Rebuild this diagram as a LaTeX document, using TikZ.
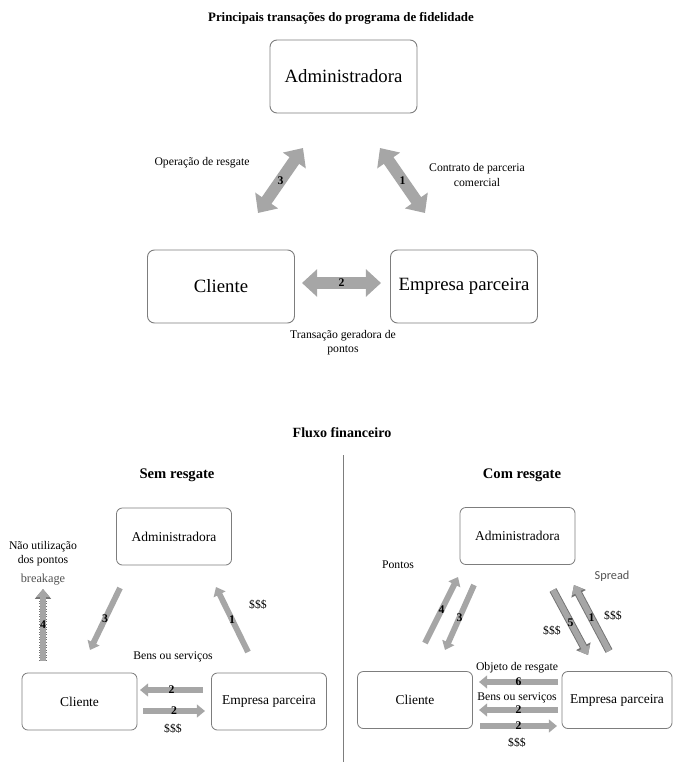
\documentclass[tikz,border=0pt]{standalone}
\usepackage{fontspec}
\setmainfont{Liberation Serif}
\newfontfamily\calfont{Carlito}
\usepackage{tikz}
\usetikzlibrary{arrows.meta, positioning}
\definecolor{arrowgray}{RGB}{166,166,166}
\definecolor{edgegray}{RGB}{115,115,115}
\definecolor{linegray}{RGB}{125,125,125}

\begin{document}
\begin{tikzpicture}[x=0.03cm, y=-0.03cm,
  bigbox/.style={draw=linegray, line width=0.8pt, rounded corners=6pt, minimum width=4.41cm, minimum height=2.19cm, font=\fontsize{16}{18}\selectfont},
  smallbox/.style={draw=linegray, line width=0.7pt, rounded corners=5pt, minimum width=3.45cm, minimum height=1.71cm, font=\fontsize{11.5}{13}\selectfont},
  bigarrow/.style={arrowgray, line width=10pt, {Triangle[width=23pt,length=13pt]}-{Triangle[width=23pt,length=13pt]}},
  slimarrow/.style={arrowgray, line width=5pt, -{Triangle[width=11pt,length=7pt]}},
  rimarrow/.style={edgegray, line width=6.6pt, -{Triangle[width=13.5pt,length=8.5pt]}},
  num/.style={font=\bfseries\fontsize{10}{12}\selectfont, text=black, inner sep=0pt},
  lbl/.style={font=\fontsize{10}{12}\selectfont, align=center},
  head/.style={font=\bfseries\fontsize{12}{14}\selectfont}
]
  \useasboundingbox (0,0) rectangle (674,762);

  % Principais transações
  \node[font=\bfseries\fontsize{11}{13}\selectfont] (title) at (341,18) {Principais transações do programa de fidelidade};

  \node[bigbox] (adm) at (343.5,76.5) {Administradora};
  \node[bigbox] (cli) at (221,286.5) {Cliente};
  \node[bigbox] (emp) at (464,286.5) {Empresa parceira};

  \coordinate (t3a) at (258,213);
  \coordinate (t3b) at (303,148);
  \coordinate (t1a) at (380,148);
  \coordinate (t1b) at (425,213);
  \coordinate (t2a) at (302,283);
  \coordinate (t2b) at (381,283);

  \draw[bigarrow] (t3a) -- (t3b) node[midway, num]{3};
  \draw[bigarrow] (t1a) -- (t1b) node[midway, num]{1};
  \draw[bigarrow] (t2a) -- (t2b) node[midway, num]{2};

  \node[lbl] (opres) at (202,163) {Operação de resgate};
  \node[lbl] (contr) at (477,175) {Contrato de parceria\\comercial};
  \node[lbl] (trans) at (343,343) {Transação geradora de\\pontos};

  % Fluxo financeiro
  \node[head] (fluxo) at (342,433) {Fluxo financeiro};
  \coordinate (divtop) at (343,455);
  \coordinate (divbot) at (343,762);
  \draw[linegray, line width=0.6pt] (divtop) -- (divbot);

  % sem resgate
  \node[head, font=\bfseries\fontsize{12.5}{14}\selectfont] (sem) at (177,475) {Sem resgate};
  \node[smallbox] (sadm) at (174,536.5) {Administradora};
  \node[smallbox] (scli) at (79.5,701.5) {Cliente};
  \node[smallbox] (semp) at (269,701.5) {Empresa parceira};

  \coordinate (s3a) at (120,588);
  \coordinate (s3b) at (90,650);
  \coordinate (s1a) at (248,652);
  \coordinate (s1b) at (216,587);
  \coordinate (s2a) at (203,690);
  \coordinate (s2b) at (140,690);
  \coordinate (s2c) at (143,711);
  \coordinate (s2d) at (205,711);
  \coordinate (s4a) at (43,661);
  \coordinate (s4b) at (43,589);

  \draw[slimarrow] (s3a) -- (s3b) node[midway, num]{3};
  \draw[slimarrow] (s1a) -- (s1b) node[midway, num]{1};
  \draw[slimarrow] (s2a) -- (s2b) node[midway, num]{2};
  \draw[slimarrow] (s2c) -- (s2d) node[midway, num]{2};
  \draw[rimarrow, dash pattern=on 0.8pt off 1.4pt] (s4a) -- (s4b);
  \draw[slimarrow] (s4a) -- (s4b) node[midway, num]{4};

  \node[lbl, align=center] (naout) at (43,554) {Não utilização\\dos pontos};
  \node[lbl, text=edgegray!70!black, font=\fontsize{10.5}{12}\selectfont] (brk) at (43,580) {breakage};
  \node[lbl] (sd1) at (258,605) {\$\$\$};
  \node[lbl] (sbens) at (173,657) {Bens ou serviços};
  \node[lbl] (sd2) at (173,729) {\$\$\$};

  % com resgate
  \node[head, font=\bfseries\fontsize{12.5}{14}\selectfont] (com) at (522,475) {Com resgate};
  \node[smallbox] (cadm) at (517.5,536) {Administradora};
  \node[smallbox] (ccli) at (415,700) {Cliente};
  \node[smallbox, minimum width=3.3cm] (cemp) at (617,700) {Empresa parceira};

  \coordinate (c4a) at (425,643);
  \coordinate (c4b) at (458,577);
  \coordinate (c3a) at (474,585);
  \coordinate (c3b) at (445,650);
  \coordinate (c5a) at (553,590);
  \coordinate (c5b) at (588,655);
  \coordinate (c1a) at (609,651);
  \coordinate (c1b) at (574,585);
  \coordinate (c6a) at (558,682);
  \coordinate (c6b) at (479,682);
  \coordinate (c2a) at (558,710);
  \coordinate (c2b) at (479,710);
  \coordinate (c2c) at (480,726);
  \coordinate (c2d) at (557,726);

  \draw[slimarrow] (c4a) -- (c4b) node[midway, num]{4};
  \draw[slimarrow] (c3a) -- (c3b) node[midway, num]{3};
  \draw[rimarrow] (c5a) -- (c5b);
  \draw[slimarrow] (c5a) -- (c5b) node[midway, num]{5};
  \draw[rimarrow] (c1a) -- (c1b);
  \draw[slimarrow] (c1a) -- (c1b) node[midway, num]{1};
  \draw[slimarrow] (c6a) -- (c6b) node[midway, num]{6};
  \draw[slimarrow] (c2a) -- (c2b) node[midway, num]{2};
  \draw[slimarrow] (c2c) -- (c2d) node[midway, num]{2};

  \node[lbl] (pts) at (398,565) {Pontos};
  \node[lbl, text=edgegray!70!black, font=\calfont\fontsize{10.5}{12}\selectfont] (spr) at (612,576) {Spread};
  \node[lbl] (cd1) at (613,616) {\$\$\$};
  \node[lbl] (cd2) at (552,631) {\$\$\$};
  \node[lbl] (obj) at (517,668) {Objeto de resgate};
  \node[lbl] (cbens) at (517,698) {Bens ou serviços};
  \node[lbl] (cd3) at (517,743) {\$\$\$};
\end{tikzpicture}
\end{document}
